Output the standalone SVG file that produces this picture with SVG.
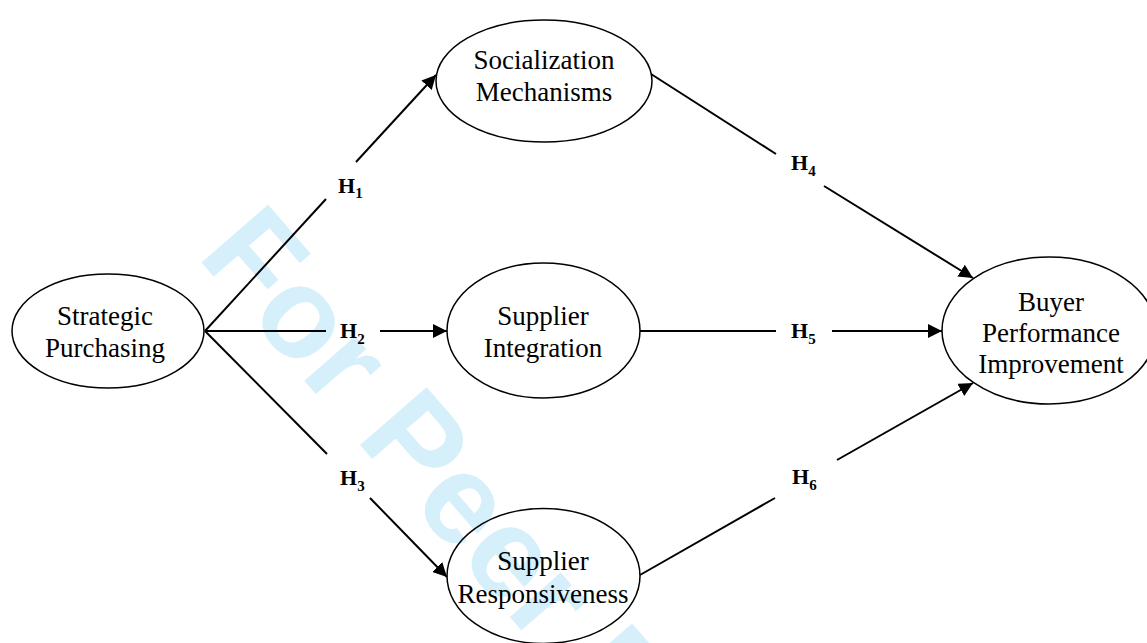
<svg xmlns="http://www.w3.org/2000/svg" width="1147" height="643" viewBox="0 0 1147 643">
<defs>
<style>
.node{fill:none;stroke:#000;stroke-width:1.5}
.lbl{font-family:"Liberation Serif","Times New Roman",serif;font-size:27px;fill:#000;text-anchor:middle}
.h{font-family:"Liberation Serif","Times New Roman",serif;font-size:22px;font-weight:bold;fill:#000}
.h tspan{font-size:15px}
.edge{stroke:#000;stroke-width:2;fill:none}
.wm{font-family:"Liberation Sans",Arial,sans-serif;font-weight:bold;font-size:128px;fill:#d5effb}
</style>
<marker id="arr" viewBox="0 0 10 10" refX="10" refY="5" markerWidth="7" markerHeight="7" markerUnits="strokeWidth" orient="auto">
<path d="M0,0 L10,5 L0,10 z" fill="#000"/>
</marker>
</defs>
<rect width="1147" height="643" fill="#fff"/>
<text class="wm" transform="translate(196,256) rotate(49)">For Peer Review</text>
<g id="connectors">
<line class="edge" x1="205" y1="331" x2="326" y2="199"/>
<line class="edge" x1="356" y1="162" x2="436" y2="75" marker-end="url(#arr)"/>
<line class="edge" x1="205" y1="331" x2="326" y2="331"/>
<line class="edge" x1="380" y1="331" x2="447" y2="331" marker-end="url(#arr)"/>
<line class="edge" x1="205" y1="331" x2="327" y2="454"/>
<line class="edge" x1="370" y1="498" x2="447" y2="577" marker-end="url(#arr)"/>
<line class="edge" x1="651" y1="74" x2="776" y2="154"/>
<line class="edge" x1="824" y1="186" x2="973" y2="278" marker-end="url(#arr)"/>
<line class="edge" x1="640" y1="331" x2="776" y2="331"/>
<line class="edge" x1="832" y1="331" x2="942" y2="331" marker-end="url(#arr)"/>
<line class="edge" x1="640" y1="575" x2="775" y2="498"/>
<line class="edge" x1="837" y1="460" x2="973" y2="383" marker-end="url(#arr)"/>
<text class="h" x="338" y="193">H<tspan dy="5">1</tspan></text>
<text class="h" x="340" y="338">H<tspan dy="6">2</tspan></text>
<text class="h" x="340" y="485">H<tspan dy="6">3</tspan></text>
<text class="h" x="791" y="170">H<tspan dy="6">4</tspan></text>
<text class="h" x="791" y="338">H<tspan dy="6">5</tspan></text>
<text class="h" x="792" y="484">H<tspan dy="6">6</tspan></text>
</g>
<g id="strategic">
<ellipse class="node" cx="108" cy="331" rx="96" ry="57"/>
<text class="lbl" x="105" y="325">Strategic</text>
<text class="lbl" x="105" y="357">Purchasing</text>
</g>
<g id="socialization">
<ellipse class="node" cx="544" cy="81" rx="108" ry="61"/>
<text class="lbl" x="544" y="69">Socialization</text>
<text class="lbl" x="544" y="101">Mechanisms</text>
</g>
<g id="integration">
<ellipse class="node" cx="543.5" cy="330.5" rx="96.5" ry="67.5"/>
<text class="lbl" x="543" y="325">Supplier</text>
<text class="lbl" x="543" y="357">Integration</text>
</g>
<g id="responsiveness">
<ellipse class="node" cx="543.5" cy="576" rx="96.5" ry="67.5"/>
<text class="lbl" x="543" y="570">Supplier</text>
<text class="lbl" x="543" y="603">Responsiveness</text>
</g>
<g id="buyer">
<ellipse class="node" cx="1049" cy="330.5" rx="107" ry="73.5"/>
<text class="lbl" x="1051" y="311">Buyer</text>
<text class="lbl" x="1051" y="342">Performance</text>
<text class="lbl" x="1051" y="373">Improvement</text>
</g>
</svg>
